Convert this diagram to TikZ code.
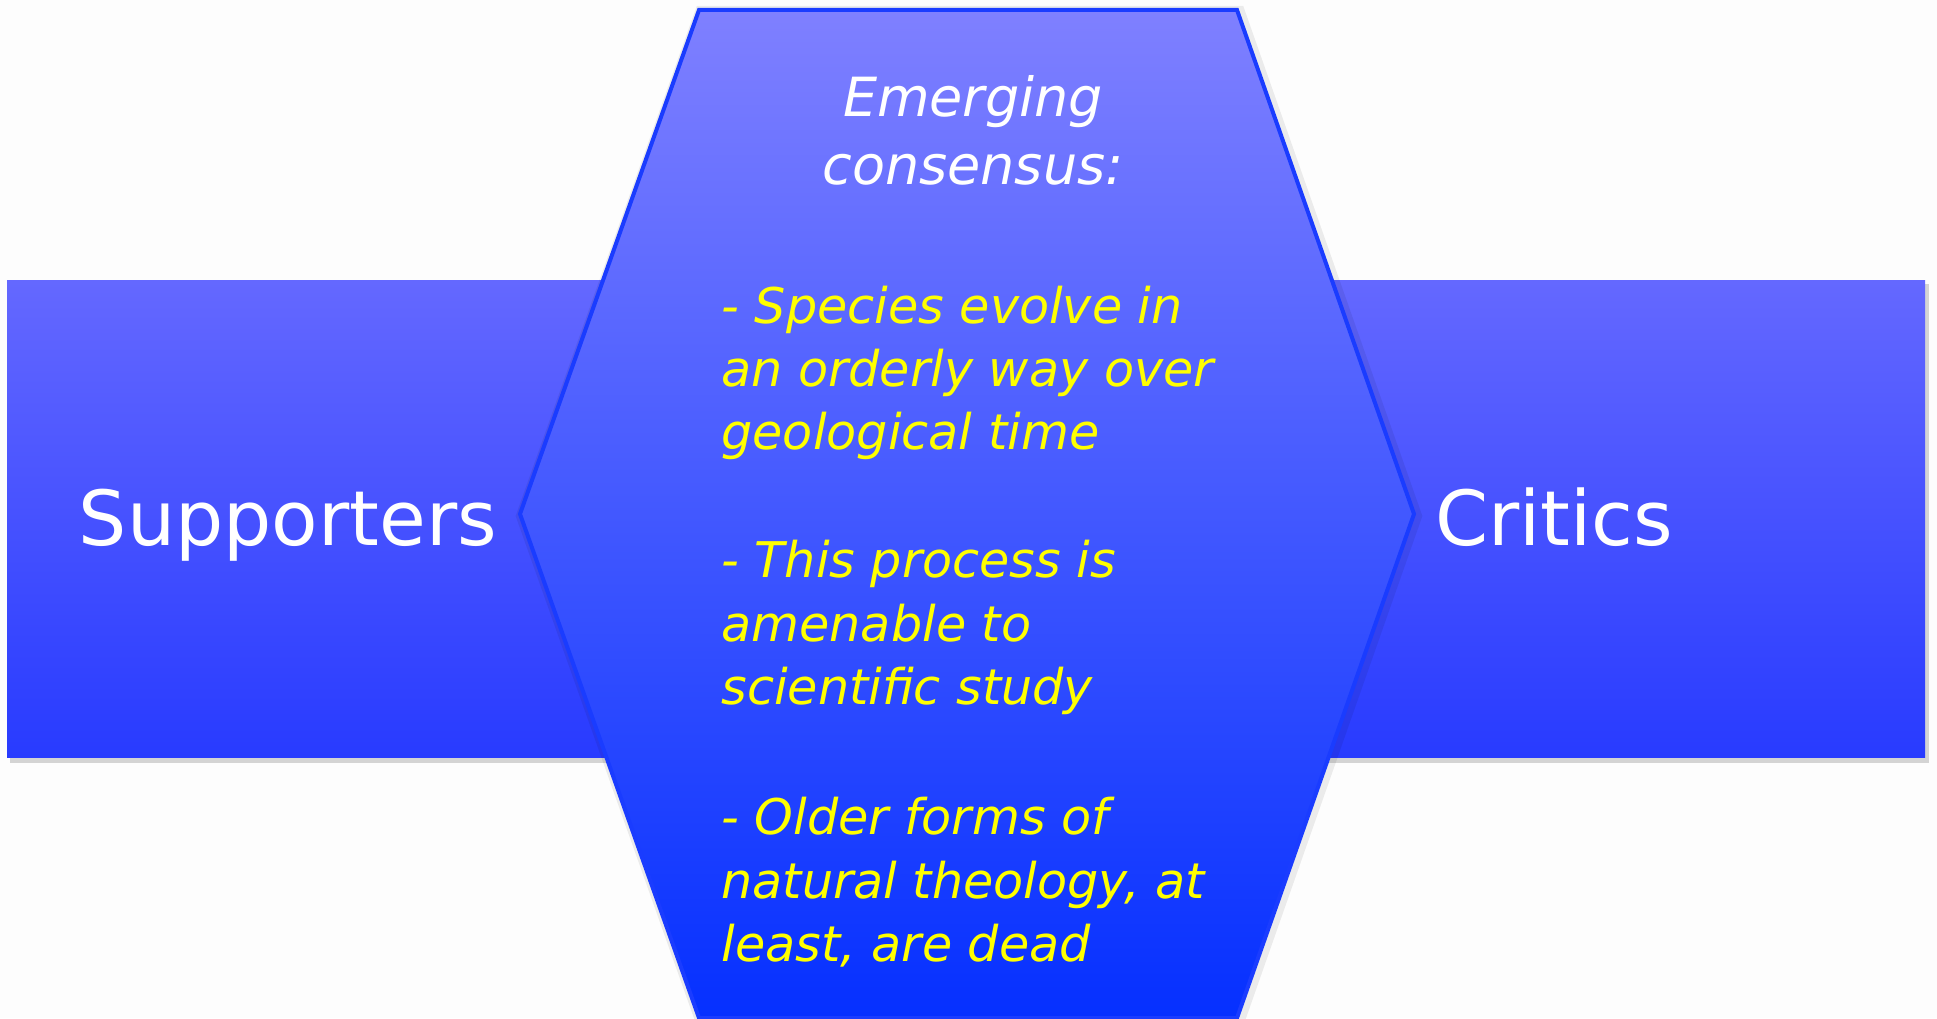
\documentclass[tikz,border=0pt]{standalone}
\usepackage{fontspec}
\setmainfont{DejaVu Sans}
\usetikzlibrary{positioning}
\definecolor{hexTop}{HTML}{7F80FF}
\definecolor{hexBot}{HTML}{0530FF}
\definecolor{barTop}{HTML}{6468FF}
\definecolor{barBot}{HTML}{283BFF}
\definecolor{hexLine}{HTML}{1A3CFF}
\definecolor{note}{HTML}{FFFF00}
\definecolor{paper}{HTML}{FDFDFD}

\begin{document}
\begin{tikzpicture}[x=0.5pt, y=0.5pt,
	bar/.style={top color=barTop, bottom color=barBot, draw=none},
	side/.style={text=white, font=\fontsize{38}{46}\selectfont, anchor=base, inner sep=0pt},
	heading/.style={text=white, font=\fontsize{27}{34}\selectfont\itshape, anchor=base, inner sep=0pt},
	point/.style={text=note, font=\fontsize{24.6}{32}\selectfont\itshape, anchor=base west, inner sep=0pt}]
	\fill [paper] (0,0) rectangle (1937,1018);
	\useasboundingbox (0,0) rectangle (1937,1018);
	
	\fill [black, opacity=0.16] (10,255) rectangle (1929,734);
	\fill [bar] (7,261) rectangle (720,737);
	\fill [bar] (1200,261) rectangle (1925,737);
	
	\draw [black, opacity=0.07, line width=6, shift={(2,-2)}] (699,1008) -- (1237,1008) -- (1414,504) -- (1237,0) -- (699,0) -- (520,504) -- cycle;
	\shade [top color=hexTop, bottom color=hexBot] (699,1008) -- (1237,1008) -- (1414,504) -- (1237,0) -- (699,0) -- (520,504) -- cycle;
	\draw [hexLine, line width=2] (699,1008) -- (1237,1008) -- (1414,504) -- (1237,0) -- (699,0) -- (520,504) -- cycle;
	
	\node [side] (supp) at (288,472) {Supporters};
	\node [side] (crit) at (1554,472) {Critics};
	
	\node [heading] (emerg) at (973,901) {Emerging};
	\node [heading] (cons) at (973,833) {consensus:};
	
	\foreach \yy/\txt [count=\i] in {694/{- Species evolve in}, 631/{an orderly way over}, 568/{geological time},
		440/{- This process is}, 376/{amenable to}, 314/{scientific study},
		184/{- Older forms of}, 120/{natural theology, at}, 57/{least, are dead}}
		\node [point] (line\i) at (721,\yy) {\txt};
\end{tikzpicture}
\end{document}
